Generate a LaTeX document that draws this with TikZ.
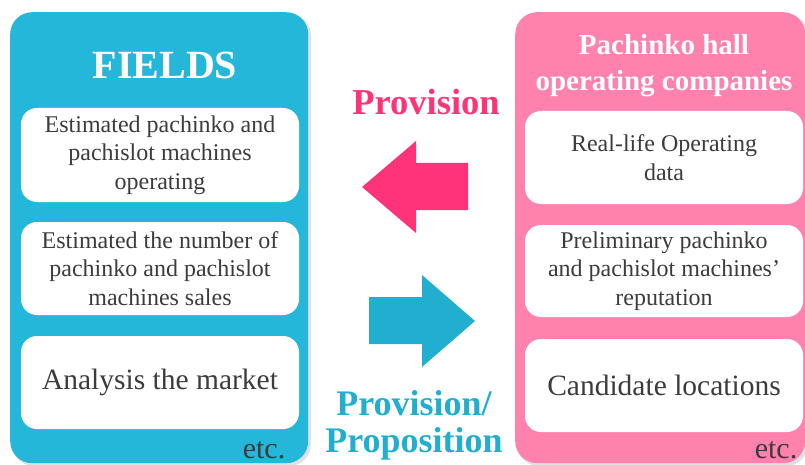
\documentclass[tikz,border=0pt]{standalone}
\usepackage{fontspec}
\setmainfont{Liberation Serif}
\definecolor{bluepanel}{RGB}{37,183,217}
\definecolor{pinkpanel}{RGB}{255,130,172}
\definecolor{pinkarrow}{RGB}{255,51,122}
\definecolor{bluearrow}{RGB}{34,174,207}
\definecolor{bodytext}{RGB}{60,60,60}
\tikzset{
  panel/.style={rounded corners=22pt, inner sep=0pt},
  whitebox/.style={fill=white, rounded corners=16pt, inner sep=0pt, text=bodytext,
    align=center},
  smalltxt/.style={font=\fontsize{24}{28.5}\selectfont},
  bigtxt/.style={font=\fontsize{29.5}{34}\selectfont},
  titletxt/.style={text=white, align=center, font=\bfseries\fontsize{29}{36}\selectfont},
  labeltxt/.style={align=center, font=\bfseries\fontsize{36.5}{36}\selectfont},
  etctxt/.style={text=bodytext, font=\fontsize{30}{30}\selectfont, inner sep=0pt, anchor=base}
}
\begin{document}
\begin{tikzpicture}[x=1pt,y=-1pt]
\useasboundingbox (0,0) rectangle (805,465);
\clip (0,0) rectangle (805,465);
% panels (shadow + body)
\fill[black!35, opacity=0.35, rounded corners=22pt] (12,14) rectangle (311,466);
\fill[black!35, opacity=0.35, rounded corners=22pt] (517,14) rectangle (808,466);
\node[panel, fill=bluepanel, minimum width=298pt, minimum height=451pt, anchor=north west] (left) at (10,12) {};
\node[panel, fill=pinkpanel, minimum width=290pt, minimum height=451pt, anchor=north west] (right) at (515,12) {};
% titles
\node[titletxt, font=\bfseries\fontsize{40}{40}\selectfont] (ltitle) at (165,65) {FIELDS};
\node[titletxt] (rtitle) at (664,66) {Pachinko hall\\operating companies};
% left boxes
\node[whitebox, smalltxt, minimum width=278pt, minimum height=94pt] (l1) at (160,155)
  {Estimated pachinko and\\pachislot machines\\operating};
\node[whitebox, smalltxt, minimum width=278pt, minimum height=93pt] (l2) at (160,268.5)
  {Estimated the number of\\pachinko and pachislot\\machines sales};
\node[whitebox, bigtxt, minimum width=278pt, minimum height=93pt] (l3) at (160,382.5)
  {Analysis the market};
% right boxes
\node[whitebox, smalltxt, minimum width=278pt, minimum height=93pt] (r1) at (664,157.5)
  {Real-life Operating\\data};
\node[whitebox, smalltxt, minimum width=278pt, minimum height=92pt] (r2) at (664,271)
  {Preliminary pachinko\\and pachislot machines'\\reputation};
\node[whitebox, bigtxt, minimum width=278pt, minimum height=93pt] (r3) at (664,385.5)
  {Candidate locations};
% etc.
\node[etctxt] (letc) at (264,458) {etc.};
\node[etctxt] (retc) at (776,458) {etc.};
% arrows
\fill[pinkarrow] (362,187) -- (416,141) -- (416,163) -- (468,163) -- (468,210) -- (416,210) -- (416,233) -- cycle;
\fill[bluearrow] (369,297) -- (422,297) -- (422,275) -- (475,321) -- (422,367) -- (422,344) -- (369,344) -- cycle;
% labels
\node[labeltxt, text=pinkarrow] (prov) at (426,102) {Provision};
\node[labeltxt, text=bluearrow, font=\bfseries\fontsize{36}{37}\selectfont] (provprop) at (414,425) {Provision/\\Proposition};
\end{tikzpicture}
\end{document}
